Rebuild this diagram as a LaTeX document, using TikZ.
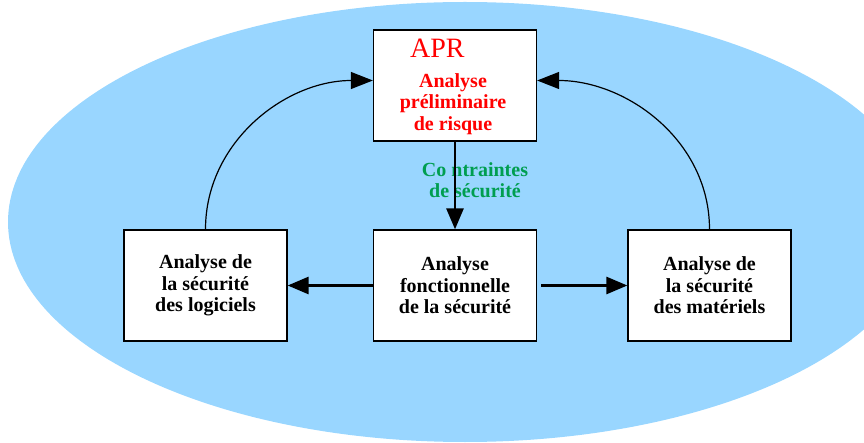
\documentclass[tikz,border=0pt]{standalone}
\usepackage{fontspec}
\setmainfont{Liberation Serif}
\usetikzlibrary{arrows.meta}
\definecolor{bleuciel}{RGB}{153,214,255}
\definecolor{vertsec}{RGB}{0,158,80}

\begin{document}
\begin{tikzpicture}[x=1pt,y=-1pt,
  texte/.style={align=center, font=\fontsize{20}{21.5}\selectfont\bfseries},
  boite/.style={texte, draw=black, line width=1.3pt, fill=white, minimum width=163pt, minimum height=111pt, inner sep=0pt},
  fleche/.style={-{Triangle[length=21pt,width=17pt]}, line width=2.8pt},
  courbe/.style={-{Triangle[length=22pt,width=17pt]}, line width=1.2pt}]
\useasboundingbox (0,0) rectangle (864,443);
\clip (0,0) rectangle (864,443);
\fill[bleuciel] (465,222) ellipse [x radius=457pt, y radius=220pt];

% boites
\node[boite] (apr) at (455,85.5) {};
\node[boite] (afs) at (455,285.5) {Analyse\\fonctionnelle\\de la sécurité};
\node[boite] (asl) at (205.5,285.5) {Analyse de\\la sécurité\\des logiciels};
\node[boite] (asm) at (709.5,285.5) {Analyse de\\la sécurité\\des matériels};

% textes
\node[red, anchor=base west, inner sep=0pt, font=\fontsize{28}{30}\selectfont] (aprsigle) at (410,58) {APR};
\node[texte, red] (aprnom) at (453,104) {Analyse\\préliminaire\\de risque};
\node[texte, vertsec] (contraintes) at (475,180) {Co ntraintes\\de sécurité};

% fleches
\draw[fleche] (apr) -- (afs);
\draw[fleche] (afs) -- (asl);
\draw[fleche, shorten <=4pt] (afs) -- (asm);
\draw[courbe] (asl.north) to[out=90,in=180] ([yshift=5pt]apr.west);
\draw[courbe] (asm.north) to[out=90,in=0] ([yshift=5pt]apr.east);

\end{tikzpicture}
\end{document}
